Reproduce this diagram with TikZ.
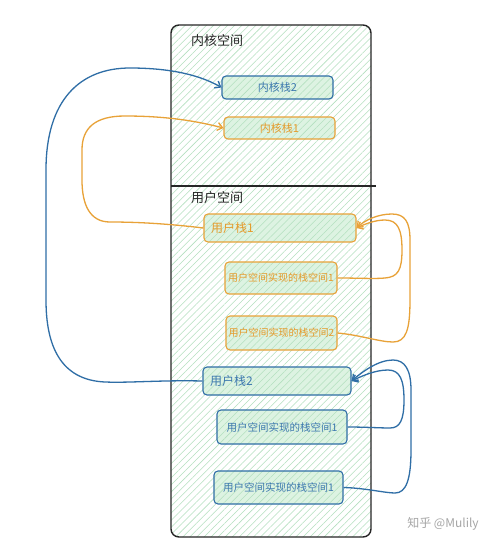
\documentclass[tikz,border=0pt]{standalone}
\usepackage{fontspec}
\newfontfamily\cjk{Noto Sans CJK SC}
\usetikzlibrary{arrows.meta,patterns.meta}
\definecolor{hatch}{HTML}{B4E0BF}
\definecolor{boxfill}{HTML}{DDF3E2}
\definecolor{bluec}{HTML}{2F6EA6}
\definecolor{orangec}{HTML}{E8A238}
\definecolor{bluet}{HTML}{3C78AE}
\definecolor{oranget}{HTML}{E59A2A}
\tikzset{
  hatched/.style={pattern={Lines[angle=45,distance=5pt,line width=0.55pt]}, pattern color=hatch},
  sbox/.style={draw, rounded corners=4pt, line width=1.1pt, preaction={fill=boxfill}, hatched, inner sep=0pt, font=\cjk\fontsize{10}{12}\selectfont},
  bbox/.style={sbox, draw=bluec, text=bluet},
  obox/.style={sbox, draw=orangec, text=oranget},
  conn/.style={line width=1.3pt, -{Straight Barb[length=5pt,width=8pt]}},
  bconn/.style={conn, draw=bluec},
  oconn/.style={conn, draw=orangec},
  title/.style={font=\cjk\fontsize{13}{15}\selectfont, anchor=west, inner sep=0pt, text=black!85},
}
\begin{document}
\begin{tikzpicture}[x=1pt,y=-1pt]
\useasboundingbox (0,0) rectangle (500,550);
\fill[white] (0,0) rectangle (500,550);
% container
\draw[rounded corners=8pt, line width=1.4pt, draw=black!85, preaction={fill=white}, hatched] (171,25) rectangle (371,537);
\draw[line width=1.1pt, black!85] (171,186) -- (376,186);
\node[title] (t1) at (191,41) {内核空间};
\node[title] (t2) at (191,198) {用户空间};
% boxes
\node[bbox, minimum width=111pt, minimum height=23pt, font=\cjk\fontsize{11}{13}\selectfont] (k2) at (277.5,87.5) {内核栈2};
\node[obox, minimum width=111pt, minimum height=22pt, font=\cjk\fontsize{11}{13}\selectfont] (k1) at (279.5,128) {内核栈1};
\node[obox, minimum width=152pt, minimum height=28pt, text width=138pt, align=left, font=\cjk\fontsize{12}{14}\selectfont] (u1) at (280,228) {用户栈1};
\node[obox, minimum width=112pt, minimum height=32pt] (o1) at (281,278) {用户空间实现的栈空间1};
\node[obox, minimum width=111pt, minimum height=34pt] (o2) at (281.5,333) {用户空间实现的栈空间2};
\node[bbox, minimum width=148pt, minimum height=28pt, text width=134pt, align=left, font=\cjk\fontsize{12}{14}\selectfont] (u2) at (277,381) {用户栈2};
\node[bbox, minimum width=130pt, minimum height=34pt, font=\cjk\fontsize{10.5}{12}\selectfont] (b1) at (282,427) {用户空间实现的栈空间1};
\node[bbox, minimum width=129pt, minimum height=33pt, font=\cjk\fontsize{10.5}{12}\selectfont] (b2) at (278.5,487.5) {用户空间实现的栈空间1};
% left connectors
\draw[bconn] (u2.west) .. controls (160,380) and (130,383) .. (105,382)
  .. controls (60,380) and (46,345) .. (46,300) -- (46,170)
  .. controls (46,100) and (80,68) .. (130,68)
  .. controls (170,68) and (200,75) .. (k2.west);
\draw[oconn] (u1.west) .. controls (170,224) and (140,222) .. (110,222)
  .. controls (90,222) and (82,205) .. (82,180) -- (82,150)
  .. controls (82,128) and (95,116) .. (125,116)
  .. controls (170,116) and (200,122) .. (k1.west);
% right connectors
\draw[oconn] (o1.east) .. controls (360,278) and (375,279) .. (385,278)
  .. controls (398,277) and (402,270) .. (402,250)
  .. controls (402,230) and (398,220) .. (385,220)
  .. controls (375,220) and (365,224) .. (u1.east);
\draw[oconn] (o2.east) .. controls (360,335) and (380,342) .. (393,342)
  .. controls (406,342) and (410,330) .. (410,300) -- (410,240)
  .. controls (410,222) and (405,214) .. (392,214)
  .. controls (378,214) and (365,220) .. (u1.east);
\draw[bconn] (b1.east) .. controls (365,427) and (380,428) .. (390,428)
  .. controls (400,428) and (404,420) .. (404,400)
  .. controls (404,380) and (400,370) .. (388,370)
  .. controls (375,370) and (362,376) .. (u2.east);
\draw[bconn] (b2.east) .. controls (365,488) and (385,493) .. (395,493)
  .. controls (406,493) and (411,480) .. (411,450) -- (411,390)
  .. controls (411,370) and (405,360) .. (393,360)
  .. controls (378,360) and (362,372) .. (u2.east);
% watermark
\node[font=\cjk\fontsize{12}{14}\selectfont, text=black!35, inner sep=0pt] (wm) at (443,524) {知乎 @Mulily};
\end{tikzpicture}
\end{document}
